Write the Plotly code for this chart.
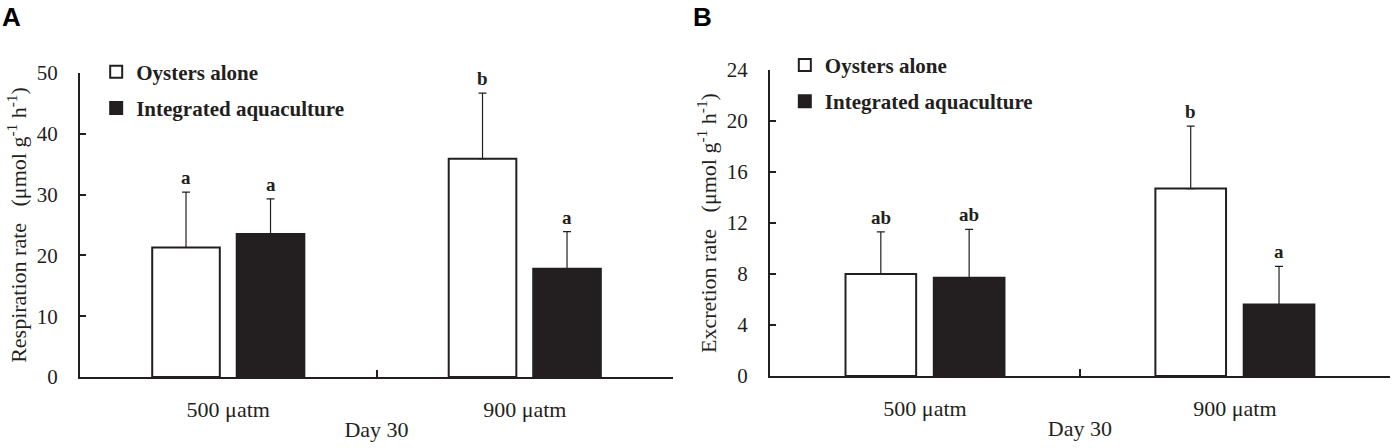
import plotly.graph_objects as go
from plotly.subplots import make_subplots

categories = ["500 μatm", "900 μatm"]
series = ["Oysters alone", "Integrated aquaculture"]

# panel A: respiration rate
resp_mean = {"Oysters alone": [21.3, 35.9], "Integrated aquaculture": [23.5, 17.8]}
resp_sd = {"Oysters alone": [9.1, 10.8], "Integrated aquaculture": [5.8, 6.1]}
resp_sig = {"Oysters alone": ["a", "b"], "Integrated aquaculture": ["a", "a"]}

# panel B: excretion rate
excr_mean = {"Oysters alone": [8.0, 14.7], "Integrated aquaculture": [7.7, 5.6]}
excr_sd = {"Oysters alone": [3.3, 4.9], "Integrated aquaculture": [3.8, 3.0]}
excr_sig = {"Oysters alone": ["ab", "b"], "Integrated aquaculture": ["ab", "a"]}

ink = "#231f20"
fills = {"Oysters alone": "white", "Integrated aquaculture": ink}
serif = "Liberation Serif"
bargap = 0.43
bargroupgap = 0.2

fig = make_subplots(rows=1, cols=2)

panels = [
    (1, resp_mean, resp_sd, resp_sig, "legend"),
    (2, excr_mean, excr_sd, excr_sig, "legend2"),
]

for col, means, sds, sigs, leg in panels:
    for s in series:
        fig.add_trace(
            go.Bar(
                x=categories,
                y=means[s],
                name=s,
                legend=leg,
                legendgroup=s,
                marker=dict(color=fills[s], line=dict(color=ink, width=2)),
                error_y=dict(
                    type="data",
                    symmetric=False,
                    array=sds[s],
                    arrayminus=[0] * len(sds[s]),
                    color=ink,
                    thickness=1.2,
                    width=4,
                ),
            ),
            row=1, col=col,
        )
    # significance letters above the error bars
    slot = (1 - bargap) / len(series)
    xref = "x" if col == 1 else "x2"
    yref = "y" if col == 1 else "y2"
    for k, s in enumerate(series):
        off = (k - (len(series) - 1) / 2) * slot
        for i, cat in enumerate(categories):
            fig.add_annotation(
                x=i + off, y=means[s][i] + sds[s][i],
                xref=xref, yref=yref,
                text=sigs[s][i], showarrow=False,
                yanchor="bottom", yshift=2,
                font=dict(family=serif, size=19, color=ink, weight="bold"),
            )

x_font = dict(family=serif, size=22, color=ink)
y_font = dict(family=serif, size=21, color=ink)
ytitle_font = dict(family=serif, size=22, color=ink)
gap = "&nbsp;&nbsp;&nbsp;"

fig.update_xaxes(
    showline=True, linecolor=ink, linewidth=2,
    ticks="inside", tickson="boundaries", ticklen=7, tickcolor=ink, tickwidth=2,
    tickfont=x_font, ticklabelstandoff=12,
    title=dict(text="Day 30", font=x_font, standoff=0),
    showgrid=False, zeroline=False, automargin=False,
)
fig.update_yaxes(
    showline=True, linecolor=ink, linewidth=2,
    ticks="inside", ticklen=6, tickcolor=ink, tickwidth=2,
    tickfont=y_font, ticklabelstandoff=16,
    showgrid=False, zeroline=False, automargin=False,
)

fig.update_layout(
    xaxis=dict(domain=[0.0574, 0.4828]),
    xaxis2=dict(domain=[0.5524, 0.997]),
    yaxis=dict(
        domain=[0.1585, 0.8371], range=[0, 50], dtick=10,
        title=dict(text="Respiration rate" + gap + "(μmol g<sup>-1</sup> h<sup>-1</sup>)",
                   font=ytitle_font, standoff=4),
    ),
    yaxis2=dict(
        domain=[0.1607, 0.8438], range=[0, 24], dtick=4,
        title=dict(text="Excretion rate" + gap + "(μmol g<sup>-1</sup> h<sup>-1</sup>)",
                   font=ytitle_font, standoff=4),
    ),
    barmode="group",
    bargap=bargap,
    bargroupgap=bargroupgap,
    legend=dict(
        x=0.069, y=0.885, xanchor="left", yanchor="top",
        bgcolor="rgba(0,0,0,0)", tracegroupgap=6, itemwidth=30,
        font=dict(family=serif, size=21, color=ink, weight="bold"),
    ),
    legend2=dict(
        x=0.563, y=0.9, xanchor="left", yanchor="top",
        bgcolor="rgba(0,0,0,0)", tracegroupgap=6, itemwidth=30,
        font=dict(family=serif, size=21, color=ink, weight="bold"),
    ),
    width=1394, height=448,
    margin=dict(l=0, r=0, t=0, b=0),
    plot_bgcolor="white", paper_bgcolor="white",
)

fig.add_annotation(x=0.0, y=1.0, xref="paper", yref="paper", text="A",
                   showarrow=False, xanchor="left", yanchor="top",
                   font=dict(family="Liberation Sans", size=26, color="black", weight="bold"))
fig.add_annotation(x=0.4957, y=1.0, xref="paper", yref="paper", text="B",
                   showarrow=False, xanchor="left", yanchor="top",
                   font=dict(family="Liberation Sans", size=26, color="black", weight="bold"))

fig.write_html("out.html", config={"displayModeBar": False},
               post_script="document.body.style.margin='0';document.body.style.overflow='hidden';")
